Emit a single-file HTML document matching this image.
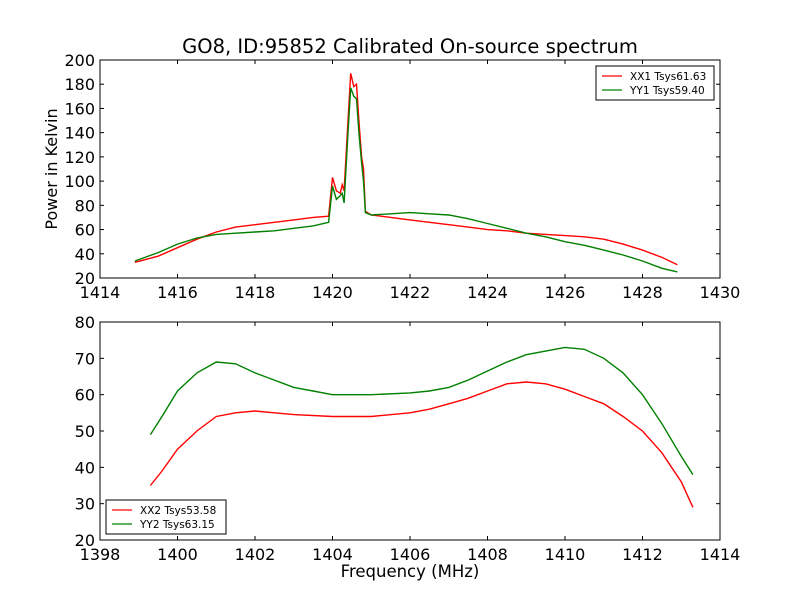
<!DOCTYPE html>
<html><head><meta charset="utf-8"><style>
body{margin:0;background:#fff}
svg{font-family:"DejaVu Sans","Liberation Sans",sans-serif}
</style></head><body>
<svg id="c" width="800" height="600" viewBox="0 0 800 600">
<rect width="800" height="600" fill="#fff"/>
<text x="410" y="53" font-size="19.5" text-anchor="middle">GO8, ID:95852 Calibrated On-source spectrum</text>
<text x="57" y="169" font-size="16" text-anchor="middle" transform="rotate(-90 57 169)">Power in Kelvin</text>
<text x="410" y="577" font-size="16.5" text-anchor="middle">Frequency (MHz)</text>
<g id="top"></g>
<g id="bot"></g>
</svg>
<script>
const xx1Freq=[1414.9,1415.5,1416,1416.5,1417,1417.5,1418,1418.5,1419,1419.5,1419.9,1420.0,1420.1,1420.2,1420.25,1420.3,1420.4,1420.47,1420.55,1420.62,1420.68,1420.75,1420.8,1420.85,1421,1421.5,1422,1422.5,1423,1423.5,1424,1424.5,1425,1425.5,1426,1426.5,1427,1427.5,1428,1428.5,1428.9];
const xx1Vals=[33,38,45,52,58,62,64,66,68,70,71,103,92,90,97,92,150,189,178,180,150,120,110,75,72,70,68,66,64,62,60,59,57,56,55,54,52,48,43,37,31];
const yy1Freq=xx1Freq;
const yy1Vals=[34,41,48,53,56,57,58,59,61,63,66,96,85,88,90,82,140,177,170,168,140,115,100,74,72,73,74,73,72,69,65,61,57,54,50,47,43,39,34,28,25];
const xx2Freq=[1399.3,1399.6,1400,1400.5,1401,1401.5,1402,1402.5,1403,1404,1405,1406,1406.5,1407,1407.5,1408,1408.5,1409,1409.5,1410,1410.5,1411,1411.5,1412,1412.5,1413,1413.3];
const xx2Vals=[35,39,45,50,54,55,55.5,55,54.5,54,54,55,56,57.5,59,61,63,63.5,63,61.5,59.5,57.5,54,50,44,36,29];
const yy2Freq=[1399.3,1399.6,1400,1400.5,1401,1401.5,1402,1402.5,1403,1403.5,1404,1405,1406,1406.5,1407,1407.5,1408,1408.5,1409,1409.5,1410,1410.5,1411,1411.5,1412,1412.5,1413,1413.3];
const yy2Vals=[49,54,61,66,69,68.5,66,64,62,61,60,60,60.5,61,62,64,66.5,69,71,72,73,72.5,70,66,60,52,43,38];
const topXTicks=[1414,1416,1418,1420,1422,1424,1426,1428,1430];
const topYTicks=[20,40,60,80,100,120,140,160,180,200];
const botXTicks=[1398,1400,1402,1404,1406,1408,1410,1412,1414];
const botYTicks=[20,30,40,50,60,70,80];
const NS='http://www.w3.org/2000/svg';
function mk(p,t,a){const e=document.createElementNS(NS,t);for(const k in a)e.setAttribute(k,a[k]);p.appendChild(e);return e;}
function panel(g,y0,x0min,x0max,ymin,ymax,xt,yt,series,legend){
 const L=100,R=720,T=y0,B=y0+218;
 const sx=v=>L+(v-x0min)/(x0max-x0min)*(R-L);
 const sy=v=>B-(v-ymin)/(ymax-ymin)*(B-T);
 series.forEach(s=>{
  const pts=s.f.map((f,i)=>sx(f).toFixed(1)+','+sy(s.v[i]).toFixed(1)).join(' ');
  const pl=mk(g,'polyline',{points:pts,fill:'none',stroke:s.c,'stroke-width':1.4});
  
  
 });
 const fr=mk(g,'rect',{x:L,y:T,width:R-L,height:B-T,fill:'none',stroke:'#000','stroke-width':1});
 
 
 xt.forEach(v=>{const x=sx(v);
  mk(g,'line',{x1:x,x2:x,y1:B,y2:B-4,stroke:'#000'});mk(g,'line',{x1:x,x2:x,y1:T,y2:T+4,stroke:'#000'});
  const t=mk(g,'text',{x:x,y:B+20,'font-size':16,'text-anchor':'middle'});t.textContent=v;
  
  });
 yt.forEach(v=>{const y=sy(v);
  mk(g,'line',{x1:L,x2:L+4,y1:y,y2:y,stroke:'#000'});mk(g,'line',{x1:R,x2:R-4,y1:y,y2:y,stroke:'#000'});
  const t=mk(g,'text',{x:L-5,y:y+6,'font-size':16,'text-anchor':'end'});t.textContent=v;
  
  });
 const lg=mk(g,'g',{});
 
 
 mk(lg,'rect',{x:legend.x,y:legend.y,width:legend.w,height:34,fill:'#fff',stroke:'#000'});
 series.forEach((s,i)=>{const y=legend.y+10+i*14;
  mk(lg,'line',{x1:legend.x+6,x2:legend.x+26,y1:y,y2:y,stroke:s.c,'stroke-width':1.3});
  const t=mk(lg,'text',{x:legend.x+34,y:y+4,'font-size':10.5});t.textContent=s.label;
  
  });
}
panel(document.getElementById('top'),60,1414,1430,20,200,topXTicks,topYTicks,
 [{f:xx1Freq,v:xx1Vals,c:'#ff0000',label:'XX1 Tsys61.63',name:'xx1-line'},{f:yy1Freq,v:yy1Vals,c:'#008000',label:'YY1 Tsys59.40',name:'yy1-line'}],{x:596,y:66,w:118});
panel(document.getElementById('bot'),322,1398,1414,20,80,botXTicks,botYTicks,
 [{f:xx2Freq,v:xx2Vals,c:'#ff0000',label:'XX2 Tsys53.58',name:'xx2-line'},{f:yy2Freq,v:yy2Vals,c:'#008000',label:'YY2 Tsys63.15',name:'yy2-line'}],{x:106,y:500,w:120});
</script>
</body></html>
